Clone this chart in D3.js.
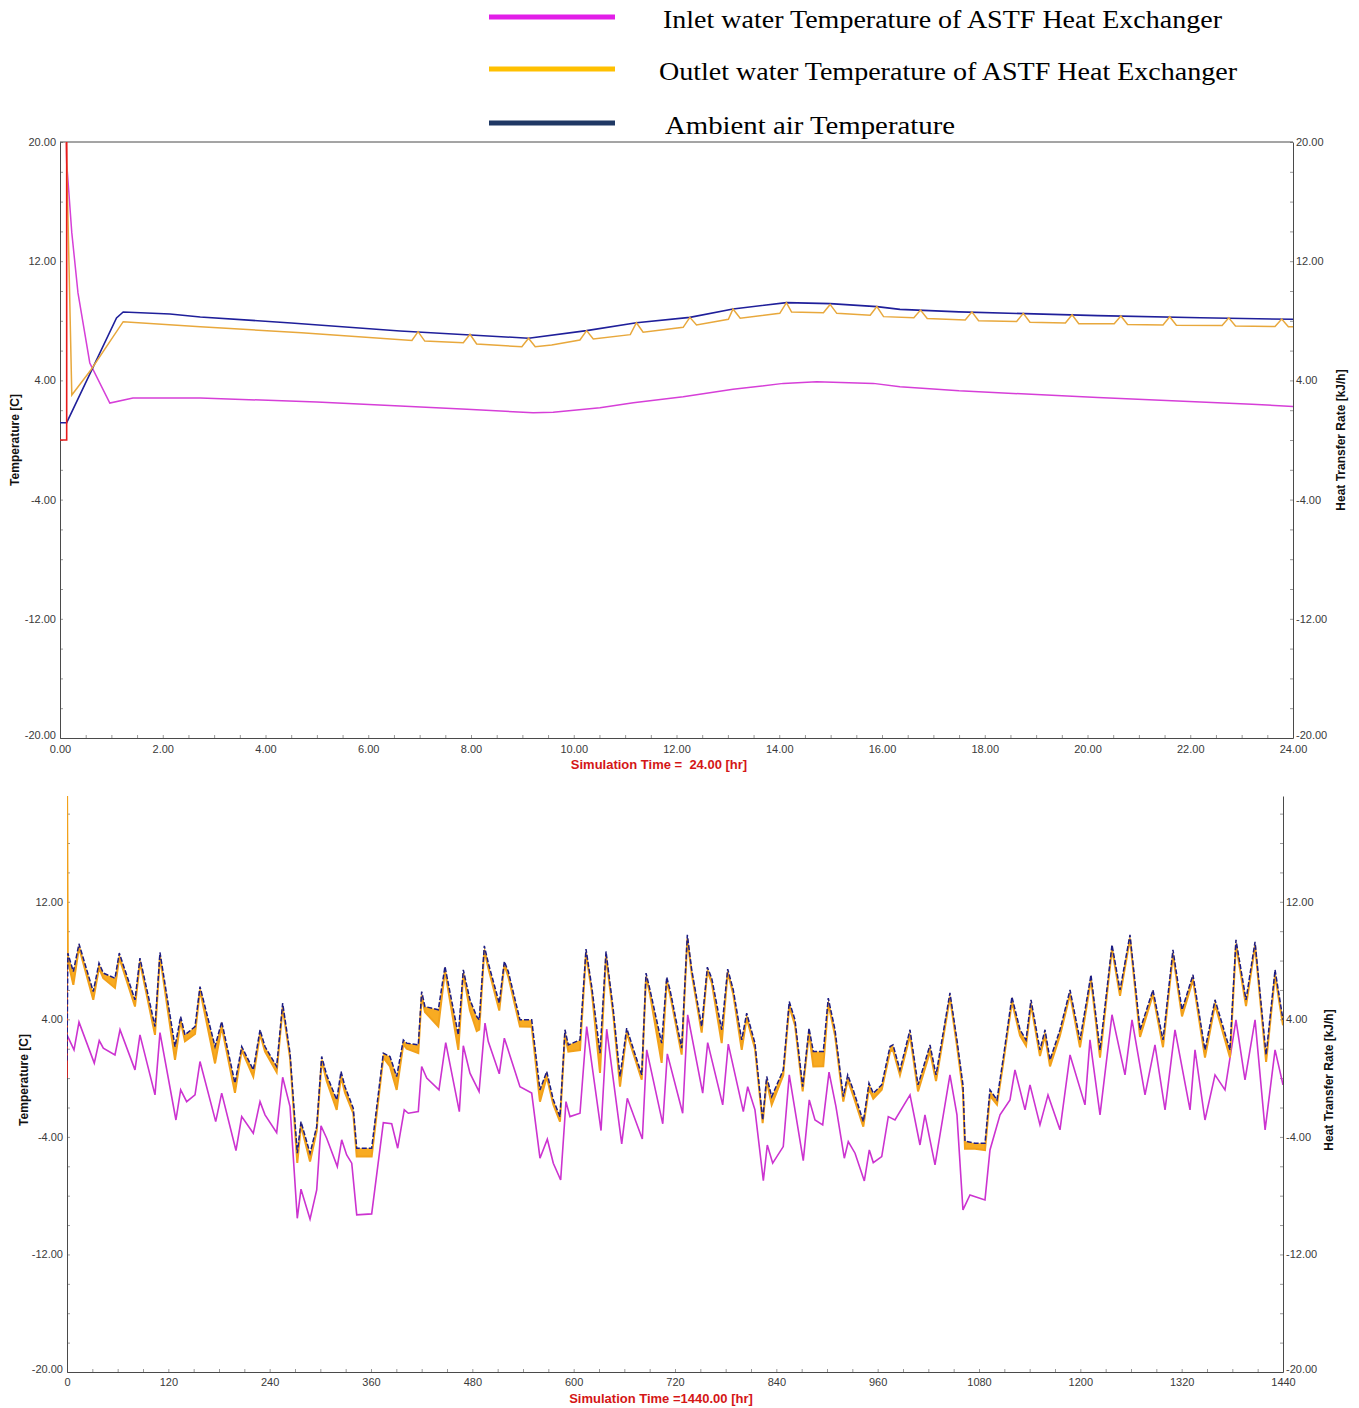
<!DOCTYPE html>
<html>
<head>
<meta charset="utf-8">
<script src="https://cdn.jsdelivr.net/npm/d3@7"></script>
<style>
  body { margin: 0; background: #fff; }
  svg { display: block; }
</style>
</head>
<body>
<svg id="chart" width="1359" height="1408"></svg>
<script>
// ---- legend ----
const legendLabels = [
  'Inlet water Temperature of ASTF Heat Exchanger',
  'Outlet water Temperature of ASTF Heat Exchanger',
  'Ambient air Temperature'
];
const legendColors = ['#e21ee8', '#ffc000', '#1f3864'];

// ---- 24 h run: [hour, value] ----
const ambientShort = [[0,1.16],[0.13,1.16],[1.10,8.19],[1.23,8.59],[2.14,8.46],[2.73,8.26],[4.5,7.85],
  [6.62,7.32],[9.12,6.83],[10.25,7.34],[11.22,7.87],[12.26,8.23],[13.1,8.79],[14.14,9.22],[14.99,9.15],
  [15.9,8.95],[16.35,8.77],[17.5,8.6],[20.2,8.35],[22.2,8.2],[24,8.1]];
const outletShort = [[0,20.5],[0.12,20.5],[0.23,3.02],[0.6,4.7],[1.23,7.94],[2.73,7.6],[4.7,7.2],
  [6.85,6.68],[6.97,7.27],[7.1,6.64],[7.85,6.53],[7.98,7.1],[8.11,6.44],[8.99,6.26],[9.12,6.83],[9.25,6.26],
  [9.57,6.38],[10.12,6.71],[10.25,7.34],[10.38,6.78],[11.1,7.07],[11.22,7.87],[11.35,7.23],[12.13,7.56],
  [12.26,8.23],[12.39,7.72],[13.01,8.1],[13.1,8.79],[13.24,8.17],[14.01,8.5],[14.14,9.22],[14.24,8.59],
  [14.86,8.54],[14.99,9.1],[15.12,8.5],[15.77,8.37],[15.9,8.95],[16.03,8.28],[16.62,8.2],[16.75,8.72],
  [16.88,8.15],[17.62,8.05],[17.75,8.6],[17.88,8.0],[18.62,7.95],[18.75,8.5],[18.88,7.9],[19.57,7.85],
  [19.7,8.4],[19.83,7.8],[20.52,7.8],[20.65,8.32],[20.78,7.75],[21.47,7.72],[21.6,8.27],[21.73,7.7],
  [22.62,7.68],[22.75,8.2],[22.88,7.65],[23.65,7.62],[23.78,8.12],[23.91,7.6],[24,7.6]];
const inletShort = [[0.12,20.5],[0.13,18.6],[0.23,13.9],[0.35,9.87],[0.58,5.17],[0.97,2.48],[1.42,2.82],
  [2.73,2.82],[5.0,2.55],[6.62,2.28],[7.92,2.06],[9.21,1.83],[9.6,1.86],[10.51,2.17],[11.16,2.5],
  [12.13,2.9],[13.1,3.4],[14.08,3.8],[14.73,3.91],[15.83,3.8],[16.35,3.58],[17.5,3.3],[20.2,2.85],
  [23.2,2.4],[24,2.25]];
const heatShort = [[0,0],[0.13,0],[0.13,25]];

// ---- 1440 h run ----
const longHours = [
  0, 1, 7.5, 14.2, 31.1, 37.9, 43, 56.8, 61.9, 80.5,
  86.4, 104.2, 110.1, 127.9, 134.6, 139.7, 151.6, 157.5, 175.3, 183.2,
  198.9, 206.9, 220.6, 228.6, 234.5, 248.3, 255.4, 264.1, 272.7, 277.1,
  287.8, 295.7, 301.6, 307.5, 319.4, 324.5, 329.2, 339, 343.1, 360.8,
  374.6, 382.5, 390.4, 398.3, 402.3, 416, 420, 423.9, 439.7, 447.6,
  463.4, 469.3, 477.2, 485.2, 488.2, 494.2, 498.9, 511.9, 517.9, 522.6,
  536.4, 550.3, 560.1, 568.1, 575.9, 583.8, 589.7, 593.7, 607.5, 614.6,
  621.4, 631.2, 638.3, 646.9, 654.9, 662.8, 680.6, 685.7, 690.4, 704.2,
  710.2, 714.1, 727.9, 734.6, 739.8, 751.6, 758.3, 763.5, 775.3, 782.4,
  789, 799, 804.9, 814.7, 823.8, 828.6, 834.5, 848.2, 855.3, 862.1,
  871.2, 878.7, 883.8, 895.6, 901.5, 909.5, 919.3, 924.5, 931.1, 943,
  949.7, 954.8, 964.8, 974.6, 978.2, 986.4, 998.3, 1007.8, 1022, 1029.1,
  1045.6, 1053.9, 1061, 1063.4, 1075.3, 1087.1, 1093, 1101.3, 1108.4, 1119,
  1128.6, 1135.7, 1141.6, 1152.2, 1158.2, 1164.1, 1175.9, 1187.8, 1199.6, 1212.6,
  1223.3, 1237.5, 1247, 1258.8, 1270.7, 1286, 1297.9, 1309.7, 1320.4, 1333.4,
  1347.6, 1359.5, 1377.2, 1384.3, 1396.2, 1406.9, 1420, 1430.6, 1440
];
const ambientLong = [
  1.2, 8.5, 7.25, 9.14, 5.89, 7.83, 7.15, 6.8, 8.51, 5.33,
  8.17, 3.51, 8.55, 2.15, 4.19, 2.94, 3.51, 6.23, 2.15, 3.85,
  -0.34, 2.15, 0.56, 3.29, 2.15, 0.79, 5.1, 1.7, -5.11, -2.96,
  -5.11, -3.3, 1.47, 0.22, -1.48, 0.45, -0.58, -2.05, -4.77, -4.77,
  1.7, 1.47, 0.11, 2.6, 2.38, 2.26, 5.89, 4.87, 4.65, 7.6,
  2.94, 7.37, 5.33, 4.19, 3.97, 9.0, 7.83, 5.1, 7.94, 7.25,
  3.97, 3.97, -0.8, 0.45, -1.48, -2.62, 3.29, 2.26, 2.6, 8.78,
  6.23, 1.7, 8.62, 4.65, 0.11, 3.4, 0.22, 7.15, 6.01, 2.38,
  6.87, 6.01, 2.04, 9.75, 7.37, 3.51, 7.55, 6.8, 3.29, 7.42,
  6.01, 2.6, 4.42, 2.38, -2.85, 0.11, -1.26, 0.56, 5.21, 3.97,
  -0.58, 3.4, 1.81, 1.81, 5.44, 3.29, -1.26, 0.22, -0.8, -2.96,
  -0.34, -1.03, -0.46, 2.15, 2.26, 0.56, 3.29, -0.46, 2.26, 0.22,
  5.8, 2.6, -0.46, -4.29, -4.43, -4.43, -0.8, -1.48, 1.24, 5.53,
  3.29, 2.6, 5.33, 1.92, 3.29, 1.24, 3.29, 6.0, 2.6, 7.03,
  1.92, 9.07, 6.0, 9.75, 3.29, 6.0, 2.6, 8.73, 4.65, 7.03,
  1.92, 5.33, 1.92, 9.41, 5.33, 9.28, 1.58, 7.37, 3.97
];
const outletLong = [
  21, 8.0, 6.35, 8.9, 5.33, 7.5, 6.8, 6.14, 8.2, 4.87,
  7.9, 2.94, 8.3, 1.24, 3.9, 2.5, 3.0, 6.0, 1.0, 3.5,
  -1.0, 1.9, 0.1, 3.0, 1.8, 0.4, 4.8, 1.4, -5.77, -3.2,
  -5.68, -3.6, 1.2, -0.2, -2.16, 0.1, -1.0, -2.4, -5.34, -5.34,
  1.4, 0.8, -0.8, 2.3, 2.0, 1.7, 5.6, 4.5, 3.51, 7.3,
  1.92, 7.1, 4.6, 3.2, 3.3, 8.7, 7.5, 4.6, 7.7, 6.9,
  3.51, 3.5, -1.6, 0.1, -1.8, -2.96, 3.0, 1.81, 1.9, 8.5,
  5.9, 0.36, 8.3, 4.3, -0.58, 3.1, -0.1, 6.9, 5.7, 1.04,
  6.6, 5.7, 1.6, 9.5, 7.1, 3.1, 7.3, 6.5, 2.38, 7.2,
  5.7, 1.92, 4.1, 2.0, -3.07, -0.2, -1.82, 0.2, 4.9, 3.6,
  -0.9, 3.1, 0.79, 0.8, 5.1, 2.9, -1.6, -0.1, -1.2, -3.3,
  -0.7, -1.4, -0.8, 1.8, 1.9, 0.2, 2.9, -0.9, 1.8, -0.2,
  5.5, 2.2, -0.9, -4.8, -4.8, -4.9, -1.2, -1.8, 0.9, 5.2,
  2.9, 2.2, 5.0, 1.5, 2.9, 0.8, 2.9, 5.7, 2.1, 6.7,
  1.4, 8.8, 5.6, 9.5, 2.8, 5.7, 2.1, 8.4, 4.2, 6.7,
  1.4, 5.0, 1.4, 9.1, 4.9, 9.0, 1.1, 7.0, 3.6
];
const inletLong = [[0,2.94],[8.3,1.92],[14.2,3.81],[32.3,1.02],[38.2,2.56],[43,2.04],[56.8,1.58],[62.8,3.29],
  [80.5,0.56],[86.4,2.94],[104.2,-1.14],[110.1,3.1],[129,-2.85],[134.6,-0.8],[141.7,-1.6],[151.6,-1.14],
  [157.5,1.13],[176.1,-2.96],[183.2,-1.02],[200.1,-4.93],[206.9,-2.62],[220.6,-3.75],[228.6,-1.6],
  [234.5,-2.5],[248.3,-3.71],[255.4,0.06],[264.1,-1.94],[272.7,-9.54],[277.1,-7.56],[287.8,-9.6],
  [295.7,-7.61],[300.8,-3.25],[307.5,-4.09],[320.1,-6.02],[325.3,-4.2],[331.2,-5.23],[337.2,-5.79],
  [343.1,-9.31],[360.8,-9.24],[374.6,-3.03],[384.5,-3.11],[391.6,-4.77],[399.4,-2.16],[404.2,-2.39],
  [416,-2.28],[420,0.79],[426,0],[440.5,-0.8],[448.5,2.42],[464.6,-2.28],[469.3,2.2],[477.2,0.34],
  [488,-0.92],[495,3.74],[498.9,2.49],[511.9,0.29],[517.9,2.72],[536.4,-0.58],[550.3,-1.02],[560.1,-5.45],
  [568.8,-4.16],[575.9,-5.79],[584.6,-6.93],[590.9,-1.6],[595.6,-2.62],[607.5,-2.39],[615.4,3.51],
  [632.4,-3.57],[639.1,3.33],[656.9,-4.48],[663.5,-1.37],[681.3,-4.14],[686.5,1.92],[705.5,-3.11],
  [710.9,1.65],[729.1,-2.39],[735,4.31],[752.8,-1.02],[758.7,2.42],[776.5,-1.82],[783.1,2.31],
  [800.9,-2.28],[806.1,-0.58],[814.7,-2.16],[824.6,-6.98],[829.3,-4.55],[835.7,-5.79],[848.2,-4.66],
  [855.3,0.22],[871.9,-5.61],[879,-1.48],[885.8,-2.85],[894.9,-3.18],[902.4,0.41],[910.6,-1.94],
  [920.5,-5.45],[925.2,-4.32],[933.2,-5.11],[944.2,-7.0],[950.1,-4.89],[954.8,-5.75],[964.8,-5.34],
  [972.6,-2.62],[980.5,-2.85],[998.3,-1.14],[1010.1,-4.55],[1016,-2.5],[1027.9,-5.9],[1045.6,0.22],
  [1053.9,-2.5],[1061,-8.97],[1069.3,-7.95],[1087.1,-8.29],[1093,-4.89],[1104.9,-2.5],[1116.7,-1.48],
  [1122.6,0.56],[1134.5,-2.16],[1140.4,-0.46],[1152.2,-3.18],[1161.7,-1.14],[1175.9,-3.52],[1187.8,1.58],
  [1205.5,-1.82],[1211.4,2.6],[1223.3,-2.5],[1237.5,4.31],[1252.9,0.22],[1261.2,3.97],[1276.6,-1.14],
  [1288.4,2.26],[1300.3,-2.16],[1312.1,3.29],[1329.9,-2.16],[1335.8,1.92],[1347.6,-2.85],[1359.5,0.22],
  [1371.3,-0.8],[1384.3,3.97],[1395,-0.12],[1406.9,3.97],[1418.8,-3.52],[1430.6,1.92],[1440,-0.46]];
const heatLong = [[0,0],[0,25]];

const yTicks = [-20, -12, -4, 4, 12, 20];
const shortTicks = d3.range(0, 24.01, 2);
const longTicks = d3.range(0, 1441, 120);

const svg = d3.select('#chart');
const fmt2 = d => d.toFixed(2);   // plain hyphen minus, as in the original
const SANS = 'Liberation Sans, Arial, sans-serif';

// legend
const leg = svg.append('g');
const legY = [17, 69, 123];
const legTextX = [663, 659, 665];
const legTextLen = [559, 578, 290];
legendLabels.forEach((label, i) => {
  leg.append('line')
    .attr('x1', 489).attr('x2', 615).attr('y1', legY[i]).attr('y2', legY[i])
    .attr('stroke', legendColors[i]).attr('stroke-width', 5);
  leg.append('text')
    .attr('x', legTextX[i]).attr('y', legY[i] + 11)
    .attr('font-family', 'Liberation Serif, serif').attr('font-size', 25)
    .attr('textLength', legTextLen[i]).attr('lengthAdjust', 'spacingAndGlyphs')
    .attr('fill', '#000').text(label);
});

function drawPanel(p) {
  const x = d3.scaleLinear().domain(p.xDomain).range([p.left, p.right]);
  const y = d3.scaleLinear().domain(p.yDomain).range([p.bottom, p.top]);
  const g = svg.append('g');

  svg.append('clipPath').attr('id', p.id + '-clip')
    .append('rect')
    .attr('x', p.left).attr('y', p.top)
    .attr('width', p.right - p.left).attr('height', p.bottom - p.top);

  // minor ticks, pointing inward
  const minor = (axis, tr) => g.append('g').attr('transform', tr)
    .call(axis.tickSize(-3).tickFormat(''))
    .call(s => s.select('.domain').remove())
    .call(s => s.selectAll('line').attr('stroke', '#9a9a9a'));
  minor(d3.axisBottom(x).tickValues(p.xMinor), `translate(0,${p.bottom})`);
  minor(d3.axisLeft(y).tickValues(p.yMinor), `translate(${p.left},0)`);
  minor(d3.axisRight(y).tickValues(p.yMinor), `translate(${p.right},0)`);

  const styleAxis = s => {
    s.attr('font-family', SANS).attr('font-size', 11);
    s.select('.domain').attr('stroke', '#4a4a4a');
    s.selectAll('.tick line').remove();
    s.selectAll('.tick text').attr('fill', '#3a3a3a');
  };
  // lift the lowest y label a little so it clears the time labels
  const liftBottom = s => s.selectAll('.tick text')
    .filter(d => d === p.yDomain[0]).attr('dy', '0.05em');

  g.append('g').attr('transform', `translate(0,${p.bottom})`)
    .call(d3.axisBottom(x).tickValues(p.xTicks).tickFormat(p.xFormat).tickSize(0).tickPadding(p.xPad))
    .call(styleAxis);
  g.append('g').attr('transform', `translate(${p.left},0)`)
    .call(d3.axisLeft(y).tickValues(p.yTicks).tickFormat(fmt2).tickSize(0).tickPadding(4))
    .call(styleAxis).call(liftBottom);
  g.append('g').attr('transform', `translate(${p.right},0)`)
    .call(d3.axisRight(y).tickValues(p.yTicks).tickFormat(fmt2).tickSize(0).tickPadding(3))
    .call(styleAxis).call(liftBottom);

  if (p.topBorder) {
    g.append('line').attr('x1', p.left).attr('x2', p.right)
      .attr('y1', p.top).attr('y2', p.top).attr('stroke', '#4a4a4a');
  }

  // axis titles
  g.append('text')
    .attr('transform', `translate(${p.leftTitleX},${p.titleY}) rotate(-90)`)
    .attr('text-anchor', 'middle').attr('font-family', SANS)
    .attr('font-weight', 'bold').attr('font-size', 12).attr('fill', '#111')
    .text('Temperature [C]');
  g.append('text')
    .attr('transform', `translate(${p.rightTitleX},${p.titleY}) rotate(-90)`)
    .attr('text-anchor', 'middle').attr('font-family', SANS)
    .attr('font-weight', 'bold').attr('font-size', 12).attr('fill', '#111')
    .text('Heat Transfer Rate [kJ/h]');
  g.append('text')
    .attr('x', p.simX).attr('y', p.simY)
    .attr('text-anchor', 'middle').attr('font-family', SANS)
    .attr('font-weight', 'bold').attr('font-size', 13).attr('fill', '#d41616')
    .style('white-space', 'pre')
    .text(p.simLabel);

  const plot = g.append('g').attr('clip-path', `url(#${p.id}-clip)`);
  return { x, y, plot };
}

const line = (x, y) => d3.line().x(d => x(d[0])).y(d => y(d[1]));

// ---- top panel: 24 h ----
{
  const { x, y, plot } = drawPanel({
    id: 'day', xDomain: [0, 24], yDomain: [-20, 20],
    left: 60, right: 1293, top: 142, bottom: 738,
    xTicks: shortTicks, xMinor: d3.range(0, 24.01, 0.5), xFormat: fmt2, xPad: 7,
    yTicks: yTicks, yMinor: d3.range(-20, 20.01, 2),
    topBorder: true, leftTitleX: 19, rightTitleX: 1345, titleY: 440,
    simX: 659, simY: 769, simLabel: 'Simulation Time =  24.00 [hr]'
  });
  const l = line(x, y);
  plot.append('path').datum(inletShort).attr('d', l)
    .attr('fill', 'none').attr('stroke', '#d63fd8').attr('stroke-width', 1.5);
  plot.append('path').datum(ambientShort).attr('d', l)
    .attr('fill', 'none').attr('stroke', '#1f1f9a').attr('stroke-width', 1.6);
  plot.append('path').datum(outletShort).attr('d', l)
    .attr('fill', 'none').attr('stroke', '#e8a83c').attr('stroke-width', 1.5);
  plot.append('path').datum(heatShort).attr('d', l)
    .attr('fill', 'none').attr('stroke', '#e81b1b').attr('stroke-width', 1.6);
}

// ---- bottom panel: 1440 h ----
{
  const { x, y, plot } = drawPanel({
    id: 'season', xDomain: [0, 1440], yDomain: [-20, 19.2],
    left: 67, right: 1283, top: 796, bottom: 1372,
    xTicks: longTicks, xMinor: d3.range(0, 1441, 30), xFormat: d3.format('d'), xPad: 6,
    yTicks: yTicks.slice(0, 5), yMinor: d3.range(-20, 19, 2),
    topBorder: false, leftTitleX: 28, rightTitleX: 1333, titleY: 1080,
    simX: 661, simY: 1403, simLabel: 'Simulation Time =1440.00 [hr]'
  });
  const l = line(x, y);
  const rows = longHours.map((t, i) => ({ t, amb: ambientLong[i], out: outletLong[i] }));

  plot.append('path').datum(heatLong).attr('d', l)
    .attr('fill', 'none').attr('stroke', '#e81b1b').attr('stroke-width', 1.6);
  plot.append('path').datum(inletLong).attr('d', l)
    .attr('fill', 'none').attr('stroke', '#cc33d0').attr('stroke-width', 1.6);

  // outlet swings daily between the ambient line and its low edge: drawn as a band
  plot.append('path').datum(rows)
    .attr('d', d3.area().x(d => x(d.t)).y0(d => y(d.out)).y1(d => y(d.amb)))
    .attr('fill', '#f7a20a').attr('fill-opacity', 0.9);
  plot.append('path').datum(rows)
    .attr('d', d3.line().x(d => x(d.t)).y(d => y(d.out)))
    .attr('fill', 'none').attr('stroke', '#f2a11a').attr('stroke-width', 2);
  plot.append('path').datum(rows)
    .attr('d', d3.line().x(d => x(d.t)).y(d => y(d.amb)))
    .attr('fill', 'none').attr('stroke', '#1d1d85').attr('stroke-width', 1.5)
    .attr('stroke-dasharray', '5,2');
}
</script>
</body>
</html>
